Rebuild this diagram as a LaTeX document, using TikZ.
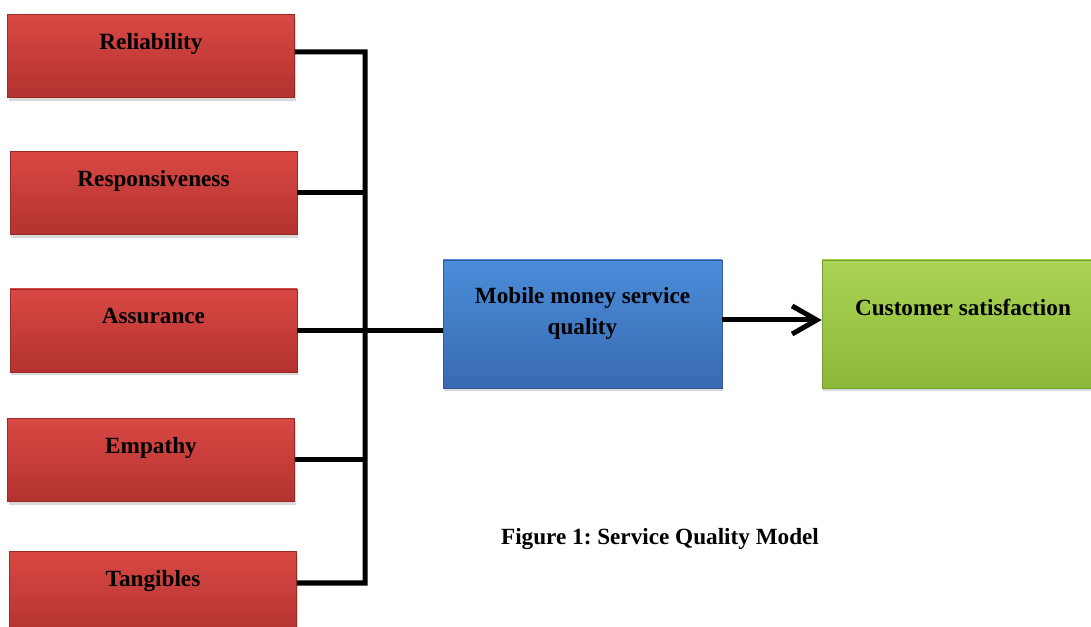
\documentclass[tikz,border=0pt]{standalone}
\usepackage{fontspec}
\setmainfont{Liberation Serif}
\usetikzlibrary{arrows.meta,shadows}
\frenchspacing

\definecolor{redtop}{HTML}{D94844}
\definecolor{redbot}{HTML}{B3322F}
\definecolor{bluetop}{HTML}{4B8DDA}
\definecolor{bluebot}{HTML}{386AB0}
\definecolor{greentop}{HTML}{AAD353}
\definecolor{greenbot}{HTML}{8CB838}

\tikzset{
    box/.style={rectangle, inner sep=0pt, align=center,
        font=\fontsize{13.2}{18.2}\selectfont\bfseries,
        drop shadow={shadow xshift=0.02cm, shadow yshift=-0.07cm, opacity=0.3}},
    factor/.style={box, minimum width=5.74cm, top color=redtop, bottom color=redbot,
        draw=redbot!85!black, line width=0.3pt, text height=0.70cm, text depth=0.96cm},
    link/.style={line width=0.1cm, line join=miter, black}
}

\begin{document}
\begin{tikzpicture}
        \useasboundingbox (0,0) rectangle (21.82,-12.54);

        % dimensions
        \node[factor] (rel) at (3.02,-1.12) {Reliability};
        \node[factor] (resp) at (3.07,-3.86) {Responsiveness};
        \node[factor] (assur) at (3.07,-6.61) {Assurance};
        \node[factor] (emp) at (3.02,-9.20) {Empathy};
        \node[factor] (tang) at (3.06,-11.86) {Tangibles};

        % quality and satisfaction
        \node[box, minimum width=5.58cm, top color=bluetop, bottom color=bluebot,
            draw=bluebot!85!black, line width=0.3pt, text height=1.50cm, text depth=1.06cm]
            (quality) at (11.65,-6.48) {Mobile money service\\quality};
        \node[box, minimum width=5.64cm, top color=greentop, bottom color=greenbot,
            draw=greenbot!85!black, line width=0.3pt, text height=1.12cm, text depth=1.44cm]
            (cs) at (19.26,-6.48) {Customer satisfaction};

        % links
        \coordinate (bus) at (7.3,-11.66);
        \draw[link] ([yshift=0.08cm]rel.east) -| (bus) -- ([yshift=0.2cm]tang.east);
        \draw[link] (resp.east) -- (resp.east -| bus);
        \draw[link] (emp.east) -- (emp.east -| bus);
        \draw[link] (assur.east) -- (assur.east -| quality.west);
        \draw[link, -{Straight Barb[length=14pt, width=16pt]}]
            ([yshift=0.08cm]quality.east) -- ([yshift=0.08cm]cs.west);

        % caption
        \node[font=\fontsize{13.2}{16}\selectfont\bfseries] (caption) at (13.2,-10.78)
            {Figure 1: Service Quality Model};
    \end{tikzpicture}
\end{document}
